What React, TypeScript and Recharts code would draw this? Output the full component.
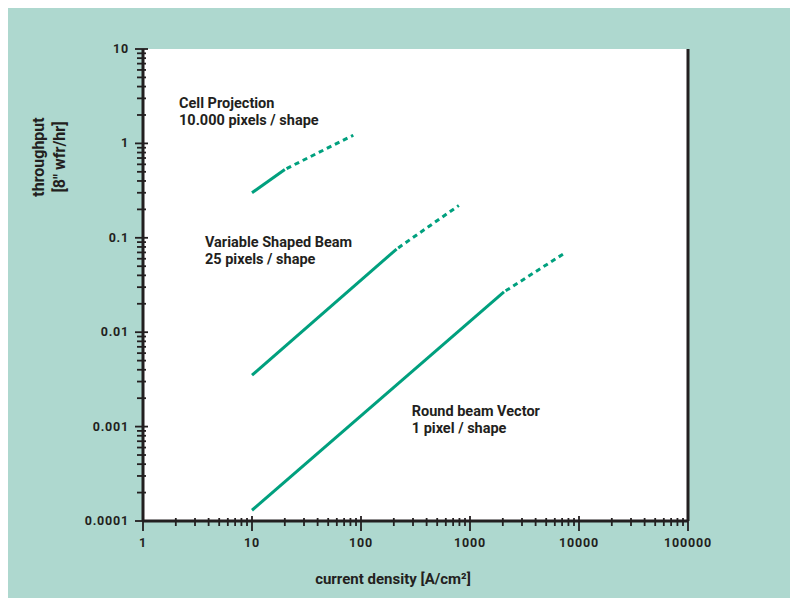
import React from "react";
import {
  LineChart,
  Line,
  XAxis,
  YAxis,
  CartesianGrid,
  ReferenceDot,
  ReferenceLine,
} from "recharts";

const BG = "#aed8cf";
const INK = "#231f20";
const GREEN = "#00a07e";
const FONT = "Roboto, 'Open Sans', sans-serif";

// decades on the axes, minor ticks at 2..9 of each decade
const xDecades = [1, 10, 100, 1000, 10000, 100000];
const yDecades = [0.0001, 0.001, 0.01, 0.1, 1, 10];
const minorSteps = [2, 3, 4, 5, 6, 7, 8, 9];

// curves: points 0-1 solid, points 1-2 dashed (extrapolated)
const cellX = [10, 20, 85];
const cellY = [0.3, 0.53, 1.22];
const vsbX = [10, 212, 790];
const vsbY = [0.0035, 0.076, 0.22];
const rbvX = [10, 2050, 7550];
const rbvY = [0.00013, 0.0267, 0.07];

const notes = [
  { x: 2.14, y: 2.37, lines: ["Cell Projection", "10.000 pixels / shape"] },
  { x: 3.7, y: 0.08, lines: ["Variable Shaped Beam", "25 pixels / shape"] },
  { x: 292, y: 0.0013, lines: ["Round beam Vector", "1 pixel / shape"] },
];

const withMinors = (decades: number[]) =>
  decades.flatMap((d, i) =>
    i < decades.length - 1 ? [d, ...minorSteps.map((m) => d * m)] : [d]
  );
const xTicks = withMinors(xDecades);
const yTicks = withMinors(yDecades);

const pts = (xs: number[], ys: number[], from: number, to: number) =>
  xs.slice(from, to + 1).map((x, i) => ({ x, y: ys[from + i] }));

const series = [
  { name: "cell", xs: cellX, ys: cellY },
  { name: "vsb", xs: vsbX, ys: vsbY },
  { name: "rbv", xs: rbvX, ys: rbvY },
];

const isDecade = (list: number[], v: number) =>
  list.some((d) => Math.abs(d - v) / d < 1e-6);

const XTick = (props: any) => {
  const { x, y, payload } = props;
  const v = payload.value;
  const major = isDecade(xDecades, v);
  return (
    <g>
      <line
        x1={x}
        x2={x}
        y1={y - (major ? 5 : 3)}
        y2={y + (major ? 10 : 5)}
        stroke={INK}
        strokeWidth={1.8}
      />
      {major && (
        <text
          x={x}
          y={y + 26}
          textAnchor="middle"
          fill={INK}
          fontSize={12.5}
          fontWeight={700}
          letterSpacing={0.8}
          fontFamily={FONT}
        >
          {String(v)}
        </text>
      )}
    </g>
  );
};

const YTick = (props: any) => {
  const { x, y, payload } = props;
  const v = payload.value;
  const major = isDecade(yDecades, v);
  return (
    <g>
      <line
        x1={x - (major ? 8 : 6)}
        x2={x + (major ? 5 : 3)}
        y1={y}
        y2={y}
        stroke={INK}
        strokeWidth={1.8}
      />
      {major && (
        <text
          x={x - 14}
          y={y + 4}
          textAnchor="end"
          fill={INK}
          fontSize={12.5}
          fontWeight={700}
          letterSpacing={0.8}
          fontFamily={FONT}
        >
          {String(v)}
        </text>
      )}
    </g>
  );
};

const NoteLabel = (props: any) => {
  const { viewBox, lines } = props;
  return (
    <text
      x={viewBox.x}
      y={viewBox.y}
      fill={INK}
      fontSize={14.5}
      fontWeight={700}
      fontFamily={FONT}
    >
      {lines.map((l: string, i: number) => (
        <tspan key={i} x={viewBox.x} dy={i === 0 ? 0 : 17}>
          {l}
        </tspan>
      ))}
    </text>
  );
};

export default function App() {
  return (
    <div style={{ width: 790, height: 590, background: BG }}>
      <LineChart
        width={790}
        height={590}
        margin={{ top: 41, right: 110, bottom: 47, left: 75 }}
      >
        <CartesianGrid fill="#ffffff" stroke="none" horizontal={false} vertical={false} />
        <XAxis
          dataKey="x"
          type="number"
          scale="log"
          domain={[1, 100000]}
          ticks={xTicks}
          interval={0}
          height={30}
          tickSize={0}
          tickMargin={0}
          tickLine={false}
          axisLine={{ stroke: INK, strokeWidth: 3 }}
          tick={<XTick />}
          allowDataOverflow
        />
        <YAxis
          type="number"
          scale="log"
          domain={[0.0001, 10]}
          ticks={yTicks}
          interval={0}
          width={60}
          tickSize={0}
          tickMargin={0}
          tickLine={false}
          axisLine={{ stroke: INK, strokeWidth: 3 }}
          tick={<YTick />}
          allowDataOverflow
        />
        <ReferenceLine x={100000} stroke={INK} strokeWidth={3} />
        {series.map((s) => (
          <Line
            key={s.name + "-solid"}
            data={pts(s.xs, s.ys, 0, 1)}
            dataKey="y"
            stroke={GREEN}
            strokeWidth={3}
            dot={false}
            isAnimationActive={false}
          />
        ))}
        {series.map((s) => (
          <Line
            key={s.name + "-dash"}
            data={pts(s.xs, s.ys, 1, 2)}
            dataKey="y"
            stroke={GREEN}
            strokeWidth={3}
            strokeDasharray="5 4"
            strokeDashoffset={7}
            dot={false}
            isAnimationActive={false}
          />
        ))}
        {notes.map((n, i) => (
          <ReferenceDot
            key={i}
            x={n.x}
            y={n.y}
            r={0}
            fill="none"
            stroke="none"
            label={<NoteLabel lines={n.lines} />}
          />
        ))}
        <text
          transform="rotate(-90, 36, 149)"
          x={36}
          y={149}
          textAnchor="middle"
          fill={INK}
          fontSize={16}
          fontWeight={700}
          fontFamily={FONT}
        >
          throughput
        </text>
        <text
          transform="rotate(-90, 57, 149)"
          x={57}
          y={149}
          textAnchor="middle"
          fill={INK}
          fontSize={16}
          fontWeight={700}
          fontFamily={FONT}
        >
          [8" wfr/hr]
        </text>
        <text
          x={385}
          y={576}
          textAnchor="middle"
          fill={INK}
          fontSize={15}
          fontWeight={700}
          fontFamily={FONT}
        >
          current density [A/cm²]
        </text>
      </LineChart>
    </div>
  );
}
